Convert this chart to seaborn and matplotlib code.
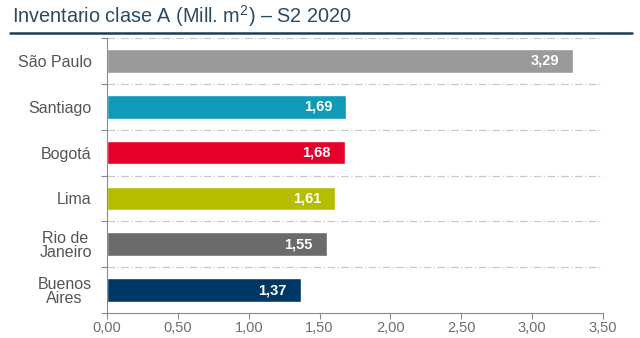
import matplotlib
matplotlib.use("Agg")
import matplotlib.pyplot as plt
import seaborn as sns
import pandas as pd
import numpy as np
from matplotlib.lines import Line2D

cities = ["São Paulo", "Santiago", "Bogotá", "Lima", "Rio de\nJaneiro", "Buenos\nAires"]
values = [3.29, 1.69, 1.68, 1.61, 1.55, 1.37]
colors = ["#9a9a9a", "#0f9ab8", "#e4002b", "#b5bd00", "#6b6b6b", "#003764"]
xticks = [0.0, 0.5, 1.0, 1.5, 2.0, 2.5, 3.0, 3.5]
title = "Inventario clase A (Mill. m$^{2}$) – S2 2020"

sns.set_theme(style="white")
plt.rcParams["font.family"] = ["Liberation Sans", "DejaVu Sans"]
plt.rcParams["mathtext.fontset"] = "custom"
plt.rcParams["mathtext.rm"] = "Liberation Sans"

df = pd.DataFrame({"city": cities, "value": values})

fig = plt.figure(figsize=(6.4, 3.38), dpi=100)
ax = fig.add_axes([107/640, 1-313/338, (603-107)/640, (313-38)/338])

sns.barplot(data=df, x="value", y="city", hue="city", palette=colors,
            order=cities, hue_order=cities, legend=False, width=0.52,
            orient="h", ax=ax, saturation=1)

ax.set_xlim(0, 3.5)
ax.set_ylim(len(cities)-0.5, -0.5)
ax.set_xlabel("")
ax.set_ylabel("")

ax.set_xticks(xticks)
ax.set_xticklabels([f"{t:.2f}".replace(".", ",") for t in xticks],
                   fontsize=10.5, color="#6e6e6e")
ax.tick_params(axis="x", which="major", direction="out", length=4, width=0.8,
               color="#8a8a8a", pad=2, bottom=True)

ax.set_yticks(range(len(cities)))
ax.set_yticklabels(cities, fontsize=11.5, color="#555555",
                   multialignment="center", linespacing=0.95)
ax.tick_params(axis="y", which="major", length=0, pad=11)
ax.set_yticks(np.arange(-0.5, len(cities), 1.0), minor=True)
ax.tick_params(axis="y", which="minor", direction="out", length=4, width=0.8,
               color="#8a8a8a", left=True)

for s in ["top", "right"]:
    ax.spines[s].set_visible(False)
for s in ["left", "bottom"]:
    ax.spines[s].set_color("#8a8a8a")
    ax.spines[s].set_linewidth(0.8)

for b in np.arange(-0.5, len(cities)-1, 1.0):
    ax.axhline(b, color="#c8c8c8", lw=0.9, ls=(0, (6, 2, 1, 2)), zorder=0)

for i, v in enumerate(values):
    ax.text(v - 0.1, i, f"{v:.2f}".replace(".", ","), ha="right", va="center",
            color="white", fontsize=10.5, fontweight="bold")

fig.text(12/640, 1-23/338, title, fontsize=14.3, color="#2b4a63",
         ha="left", va="baseline")
fig.add_artist(Line2D([10/640, 632/640], [1-33/338, 1-33/338],
                      transform=fig.transFigure, color="#1f3a55", lw=1.8))

fig.savefig("out.png", dpi=100)
